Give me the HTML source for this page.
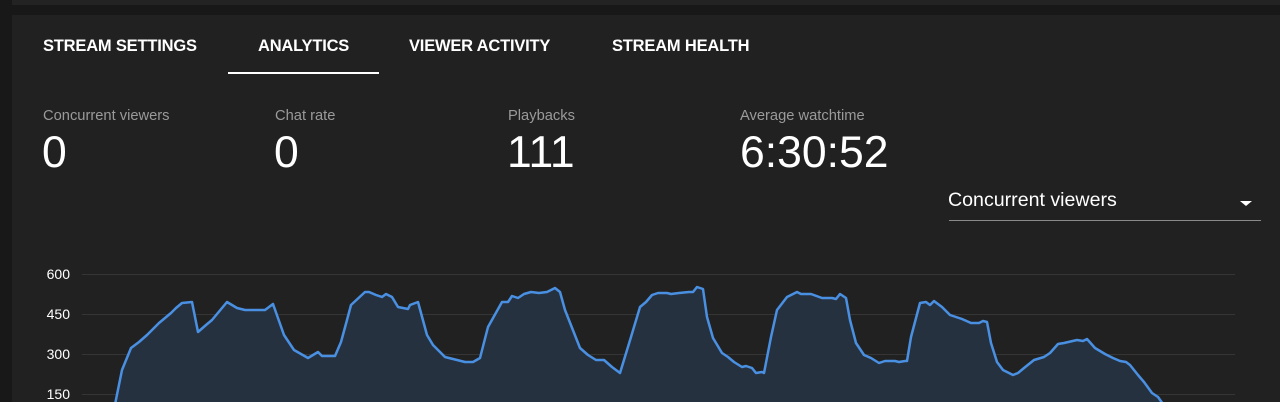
<!DOCTYPE html>
<html><head><meta charset="utf-8"><style>
html,body{margin:0;padding:0;background:#181818;width:1280px;height:402px;overflow:hidden;font-family:"Liberation Sans",Roboto,sans-serif;}
.top{position:absolute;left:12px;top:0;width:1268px;height:5px;background:#232323;}
.panel{position:absolute;left:12px;top:15px;width:1268px;height:387px;background:#212121;}
.tab{position:absolute;top:37px;color:#fff;font-weight:bold;font-size:16.5px;letter-spacing:-0.2px;white-space:nowrap;}
.ul{position:absolute;left:228px;top:72px;width:151px;height:2px;background:#fff;}
.lbl{position:absolute;top:108px;color:#9a9a9a;font-size:14.7px;}
.num{position:absolute;top:129px;color:#fff;font-size:44.5px;line-height:48px;}
.dd{position:absolute;left:948px;top:189px;color:#fff;font-size:19.6px;}
.ddl{position:absolute;left:949px;top:220px;width:312px;height:1px;background:#8a8a8a;}
.tri{position:absolute;left:1240px;top:201px;width:0;height:0;border-left:6px solid transparent;border-right:6px solid transparent;border-top:5px solid #fff;}
svg{position:absolute;left:0;top:0;}
</style></head><body>
<div class="top"></div>
<div class="panel"></div>
<div class="tab" style="left:43px">STREAM SETTINGS</div>
<div class="tab" style="left:258px">ANALYTICS</div>
<div class="tab" style="left:409px">VIEWER ACTIVITY</div>
<div class="tab" style="left:612px">STREAM HEALTH</div>
<div class="ul"></div>
<div class="lbl" style="left:43px">Concurrent viewers</div>
<div class="lbl" style="left:275px">Chat rate</div>
<div class="lbl" style="left:508px">Playbacks</div>
<div class="lbl" style="left:740px">Average watchtime</div>
<div class="num" style="left:42px">0</div>
<div class="num" style="left:274px">0</div>
<div class="num" style="left:507px">111</div>
<div class="num" style="left:740px">6:30:52</div>
<div class="dd">Concurrent viewers</div>
<div class="tri"></div>
<div class="ddl"></div>
<svg width="1280" height="402">
<g stroke="#353535" stroke-width="1">
<line x1="82" y1="274.5" x2="1235" y2="274.5"/><line x1="82" y1="314.5" x2="1235" y2="314.5"/>
<line x1="82" y1="354.5" x2="1235" y2="354.5"/><line x1="82" y1="394.5" x2="1235" y2="394.5"/>
</g>
<g fill="#fff" font-size="14" text-anchor="end" font-family="Liberation Sans, sans-serif">
<text x="70" y="279">600</text><text x="70" y="319">450</text><text x="70" y="359">300</text><text x="70" y="399">150</text>
</g>
<polygon fill="#263140" points="114,410 115.5,402 122,370 131,348 139,342 147,335 159,323 171,313 176,308 182,303 192,302 198,332 206,325 212,320 227,302 237,308 245,310 265,310 273,304 284,335 294,350 308,358 318,352 322,356 335,356 341,342 347,320 351,305 365,292 369,292 376,295 382,297 386,294 392,297 398,307 408,309 410,305 418,302 427,335 433,345 445,357 457,360 465,362 473,362 480,358 488,327 502,302 508,302 512,296 518,298 524,294 531,292 539,293 547,292 555,288 560,292 565,310 580,348 588,355 596,360 604,360 612,367 620,373 631,337 640,307 646,302 652,295 658,293 667,293 671,294 679,293 689,292 693,292 697,287 703,289 707,317 713,338 722,353 728,357 734,362 742,367 746,366 752,368 756,373 762,372 764,373 771,337 777,310 787,297 797,292 801,294 811,294 822,298 832,298 836,299 840,294 846,298 850,320 856,343 864,355 871,358 879,363 885,361 895,361 899,362 905,361 907,361 911,337 920,303 926,302 930,305 934,301 942,307 950,315 956,317 962,319 971,323 979,323 983,321 987,322 991,343 997,362 1003,370 1013,375 1018,373 1024,368 1034,360 1044,357 1050,353 1058,344 1064,343 1077,340 1083,341 1087,339 1095,348 1105,354 1113,358 1120,361 1126,362 1130,365 1138,375 1144,382 1152,393 1158,397 1163,404 1163,410"/>
<polyline fill="none" stroke="#4a90e2" stroke-width="2.5" stroke-linejoin="round" points="114,410 115.5,402 122,370 131,348 139,342 147,335 159,323 171,313 176,308 182,303 192,302 198,332 206,325 212,320 227,302 237,308 245,310 265,310 273,304 284,335 294,350 308,358 318,352 322,356 335,356 341,342 347,320 351,305 365,292 369,292 376,295 382,297 386,294 392,297 398,307 408,309 410,305 418,302 427,335 433,345 445,357 457,360 465,362 473,362 480,358 488,327 502,302 508,302 512,296 518,298 524,294 531,292 539,293 547,292 555,288 560,292 565,310 580,348 588,355 596,360 604,360 612,367 620,373 631,337 640,307 646,302 652,295 658,293 667,293 671,294 679,293 689,292 693,292 697,287 703,289 707,317 713,338 722,353 728,357 734,362 742,367 746,366 752,368 756,373 762,372 764,373 771,337 777,310 787,297 797,292 801,294 811,294 822,298 832,298 836,299 840,294 846,298 850,320 856,343 864,355 871,358 879,363 885,361 895,361 899,362 905,361 907,361 911,337 920,303 926,302 930,305 934,301 942,307 950,315 956,317 962,319 971,323 979,323 983,321 987,322 991,343 997,362 1003,370 1013,375 1018,373 1024,368 1034,360 1044,357 1050,353 1058,344 1064,343 1077,340 1083,341 1087,339 1095,348 1105,354 1113,358 1120,361 1126,362 1130,365 1138,375 1144,382 1152,393 1158,397 1163,404"/>
</svg>
</body></html>
